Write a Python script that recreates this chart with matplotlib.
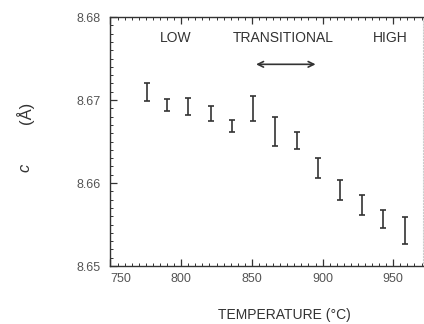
import matplotlib
matplotlib.use('Agg')
import matplotlib.pyplot as plt
from matplotlib.ticker import MultipleLocator

plt.rcParams['font.family'] = ['Liberation Sans', 'DejaVu Sans']

# Data (temperature in deg C, lattice parameter c in Angstrom)
temperature = [776, 790, 805, 821, 836, 851, 866, 882, 897, 912, 928, 943, 958]
c_value = [8.6710, 8.6694, 8.6692, 8.6684, 8.6669, 8.6690, 8.6662, 8.6651,
           8.6618, 8.6592, 8.6574, 8.6557, 8.6543]
c_error = [0.0011, 0.0007, 0.0010, 0.0009, 0.0007, 0.0015, 0.0018, 0.0010,
           0.0012, 0.0012, 0.0012, 0.0011, 0.0016]

regions = ['LOW', 'TRANSITIONAL', 'HIGH']
region_x = [796, 872, 948]

ink = '#333333'

fig = plt.figure(figsize=(4.24, 3.24), dpi=100)
ax = fig.add_axes([0.2606, 0.179, 0.737, 0.7685])

ax.errorbar(temperature, c_value, yerr=c_error, fmt='none', ecolor=ink,
            elinewidth=1.2, capsize=2.4, capthick=1.2)

ax.set_xlim(750, 971)
ax.set_ylim(8.65, 8.68)
ax.xaxis.set_major_locator(MultipleLocator(50))
ax.xaxis.set_minor_locator(MultipleLocator(5))
ax.yaxis.set_major_locator(MultipleLocator(0.01))
ax.yaxis.set_minor_locator(MultipleLocator(0.001))
ax.yaxis.set_major_formatter(lambda v, _: f"{v:.2f}")

ax.tick_params(which='both', direction='in', top=True, right=False,
               colors=ink, labelcolor='#555555', labelsize=9)
ax.tick_params(which='major', length=5, width=0.9)
ax.tick_params(which='minor', length=2.5, width=0.7)
ax.tick_params(axis='x', pad=5)
ax.tick_params(axis='y', pad=7)
for lbl in ax.get_xticklabels():
    if lbl.get_text() == '750':
        lbl.set_ha('left')

for side in ['left', 'bottom', 'top']:
    ax.spines[side].set_color(ink)
    ax.spines[side].set_linewidth(1.0)
ax.spines['right'].set_color('#cccccc')
ax.spines['right'].set_linewidth(0.8)
ax.spines['right'].set_linestyle(':')

# Region labels and arrow
for name, x in zip(regions, region_x):
    ax.text(x, 8.6775, name, ha='center', va='center', fontsize=10, color=ink)
ax.annotate('', xy=(897, 8.6743), xytext=(851, 8.6743),
            arrowprops=dict(arrowstyle='<->', color=ink, lw=1.2))

ax.set_xlabel('TEMPERATURE (°C)', fontsize=10, color=ink)
ax.xaxis.set_label_coords(0.555, -0.168)
ax.text(-0.274, 0.395, 'c', transform=ax.transAxes, rotation=90,
        ha='center', va='center', fontsize=12, style='italic', color=ink)
ax.text(-0.274, 0.615, '(Å)', transform=ax.transAxes, rotation=90,
        ha='center', va='center', fontsize=12, color=ink)

fig.savefig('out.png', dpi=100)
